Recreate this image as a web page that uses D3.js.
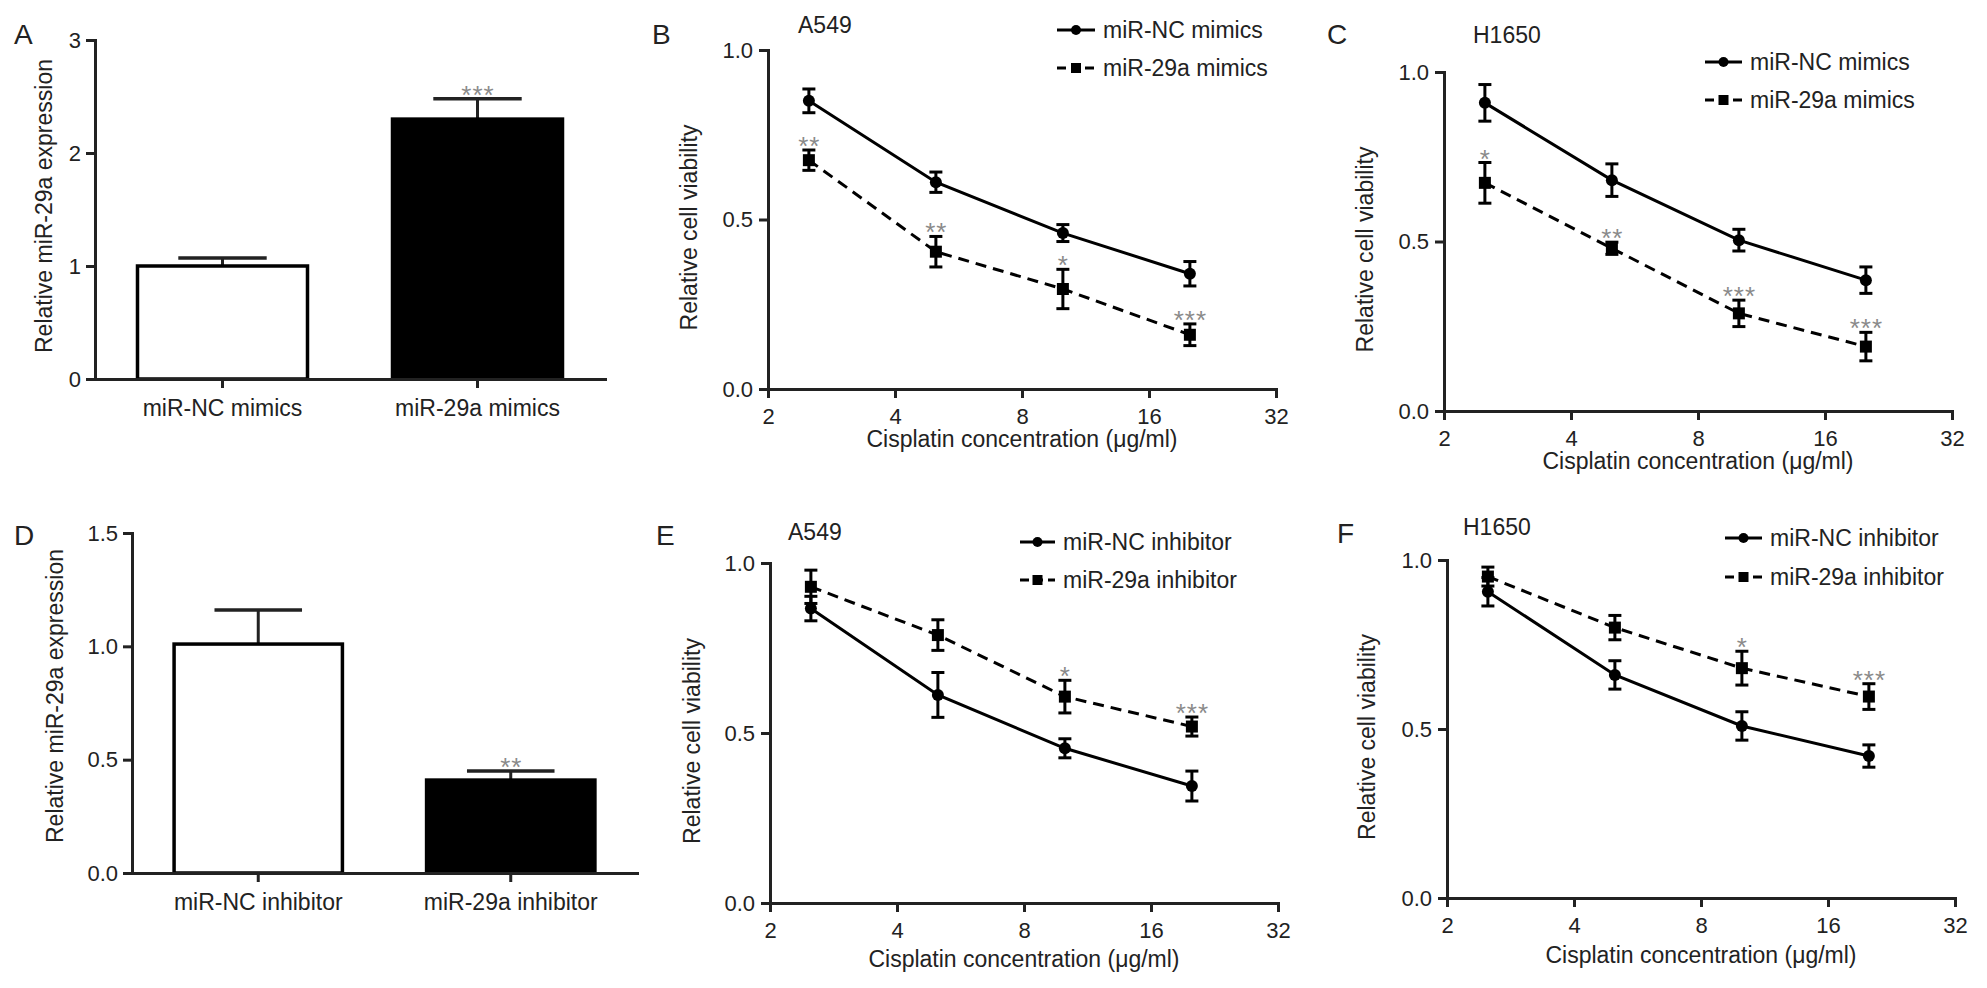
<!DOCTYPE html>
<html><head><meta charset="utf-8">
<script src="https://cdn.jsdelivr.net/npm/d3@7"></script>
<style>
body{margin:0;background:#fff}
text{font-family:"Liberation Sans",Arial,Helvetica,sans-serif;fill:#222}
</style>
</head><body>
<svg id="chart" width="1987" height="988"></svg>
<script>
// ---------------- DATA ----------------
const barCatsA = ["miR-NC mimics", "miR-29a mimics"];
const barMeanA = [1.0, 2.3];
const barErrA  = [0.07, 0.18];
const barSigA  = ["", "***"];
const barTicksA = [0, 1, 2, 3];

const barCatsD = ["miR-NC inhibitor", "miR-29a inhibitor"];
const barMeanD = [1.01, 0.41];
const barErrD  = [0.15, 0.04];
const barSigD  = ["", "**"];
const barTicksD = [0, 0.5, 1.0, 1.5];

const doses = [2.5, 5, 10, 20];
const doseTicks = [2, 4, 8, 16, 32];
const viabTicks = [0, 0.5, 1.0];

const seriesMimics = ["miR-NC mimics", "miR-29a mimics"];
const seriesInhib  = ["miR-NC inhibitor", "miR-29a inhibitor"];

const bNC = [0.85, 0.61, 0.46, 0.34],   bNCerr = [0.035, 0.03, 0.025, 0.036];
const b29 = [0.675, 0.405, 0.295, 0.16], b29err = [0.03, 0.045, 0.058, 0.032];
const bSig = ["**", "**", "*", "***"];

const cNC = [0.909, 0.681, 0.504, 0.386], cNCerr = [0.054, 0.048, 0.032, 0.039];
const c29 = [0.673, 0.48, 0.288, 0.19],   c29err = [0.06, 0.018, 0.039, 0.042];
const cSig = ["*", "**", "***", "***"];

const eNC = [0.866, 0.612, 0.455, 0.344], eNCerr = [0.036, 0.066, 0.028, 0.044];
const e29 = [0.93, 0.788, 0.607, 0.519],  e29err = [0.049, 0.045, 0.048, 0.028];
const eSig = ["", "", "*", "***"];

const fNC = [0.906, 0.66, 0.509, 0.42],   fNCerr = [0.042, 0.042, 0.042, 0.033];
const f29 = [0.951, 0.80, 0.68, 0.596],   f29err = [0.028, 0.036, 0.05, 0.038];
const fSig = ["", "", "*", "***"];

// ---------------- DRAWING ----------------
const svg = d3.select("#chart");
const TICKFS = 22, FS = 23, LETTERFS = 28, STARFS = 26;
const INK = "#222", STAR = "#8a8a8a";
const FONT = '"Liberation Sans",Arial,Helvetica,sans-serif';

function styleAxis(g) {
  g.attr("font-size", TICKFS).attr("font-family", FONT);
  g.select(".domain").attr("stroke", INK).attr("stroke-width", 3).attr("stroke-linecap", "square");
  g.selectAll(".tick line").attr("stroke", INK).attr("stroke-width", 3);
  g.selectAll(".tick text").attr("fill", INK);
}

function label(x, y, txt, size, anchor) {
  svg.append("text").attr("x", x).attr("y", y).attr("font-size", size)
    .attr("text-anchor", anchor || "start").text(txt);
}

function yTitle(bx, cy, txt) {
  svg.append("text").attr("transform", `translate(${bx},${cy}) rotate(-90)`)
    .attr("text-anchor", "middle").attr("font-size", FS).text(txt);
}

function stars(x, errTopY, s) {
  if (!s) return;
  svg.append("text").attr("x", x + 0.5).attr("y", errTopY + 5)
    .attr("text-anchor", "middle").attr("font-size", STARFS)
    .attr("letter-spacing", 1).style("fill", STAR).text(s);
}

function barPanel(o) {
  const y = d3.scaleLinear().domain([0, o.max]).range([o.yb, o.yt]);
  const x = d3.scaleBand().domain(o.cats).range([o.x0, o.x1]).paddingInner(1/3).paddingOuter(1/6);
  const g = svg.append("g");
  const bw = x.bandwidth();
  o.cats.forEach((c, i) => {
    const left = x(c), cx = left + bw / 2;
    const top = y(o.mean[i]), et = y(o.mean[i] + o.err[i]);
    // error bar (upward)
    g.append("line").attr("x1", cx).attr("x2", cx).attr("y1", top).attr("y2", et)
      .attr("stroke", INK).attr("stroke-width", 3);
    g.append("line").attr("x1", cx - bw * 0.26).attr("x2", cx + bw * 0.26).attr("y1", et).attr("y2", et)
      .attr("stroke", INK).attr("stroke-width", 3.5);
    g.append("rect").attr("x", left).attr("y", top).attr("width", bw).attr("height", y(0) - top)
      .attr("fill", i === 0 ? "#fff" : "#000").attr("stroke", "#000").attr("stroke-width", 3.5);
    stars(cx, et, o.sig[i]);
  });
  const ya = svg.append("g").attr("transform", `translate(${o.x0},0)`)
    .call(d3.axisLeft(y).tickValues(o.ticks).tickFormat(o.fmt).tickSize(9).tickSizeOuter(0).tickPadding(5));
  styleAxis(ya);
  const xa = svg.append("g").attr("transform", `translate(0,${o.yb})`)
    .call(d3.axisBottom(x).tickSize(9).tickSizeOuter(0).tickPadding(12));
  styleAxis(xa);
  xa.selectAll(".tick text").attr("font-size", FS);
  yTitle(o.tbx, o.tcy, "Relative miR-29a expression");
  label(o.lx, o.ly, o.letter, LETTERFS);
}

function curvePanel(o) {
  const x = d3.scaleLog().base(2).domain([2, 32]).range([o.x0, o.x1]);
  const y = d3.scaleLinear().domain([0, 1]).range([o.yb, o.yt]);
  const g = svg.append("g");
  const line = d3.line().x((d, i) => x(doses[i])).y(d => y(d));
  // lines
  g.append("path").datum(o.nc).attr("d", line).attr("fill", "none")
    .attr("stroke", "#000").attr("stroke-width", 3);
  g.append("path").datum(o.s29).attr("d", line).attr("fill", "none")
    .attr("stroke", "#000").attr("stroke-width", 3).attr("stroke-dasharray", "11,7");
  function errs(vals, e) {
    vals.forEach((v, i) => {
      const cx = x(doses[i]), a = y(v - e[i]), b = y(v + e[i]);
      g.append("line").attr("x1", cx).attr("x2", cx).attr("y1", a).attr("y2", b)
        .attr("stroke", "#000").attr("stroke-width", 3);
      [a, b].forEach(yy => g.append("line").attr("x1", cx - 6.5).attr("x2", cx + 6.5)
        .attr("y1", yy).attr("y2", yy).attr("stroke", "#000").attr("stroke-width", 3));
    });
  }
  errs(o.nc, o.ncErr);
  errs(o.s29, o.s29Err);
  o.nc.forEach((v, i) => g.append("circle").attr("cx", x(doses[i])).attr("cy", y(v)).attr("r", 6).attr("fill", "#000"));
  o.s29.forEach((v, i) => g.append("rect").attr("x", x(doses[i]) - 6).attr("y", y(v) - 6)
    .attr("width", 12).attr("height", 12).attr("fill", "#000"));
  o.s29.forEach((v, i) => stars(x(doses[i]), y(v + o.s29Err[i]), o.sig[i]));

  const ya = svg.append("g").attr("transform", `translate(${o.x0},0)`)
    .call(d3.axisLeft(y).tickValues(viabTicks).tickFormat(d3.format(".1f")).tickSize(9).tickSizeOuter(0).tickPadding(6));
  styleAxis(ya);
  const xa = svg.append("g").attr("transform", `translate(0,${o.yb})`)
    .call(d3.axisBottom(x).tickValues(doseTicks).tickFormat(d3.format("d")).tickSize(9).tickSizeOuter(0).tickPadding(10));
  styleAxis(xa);

  yTitle(o.tbx, (o.yt + o.yb) / 2 + 8, "Relative cell viability");
  label((o.x0 + o.x1) / 2, o.xtb, "Cisplatin concentration (\u03bcg/ml)", FS, "middle");
  label(o.lx, o.ly, o.letter, LETTERFS);
  label(o.cellX, o.cellY, o.cell, FS);

  // legend
  o.names.forEach((nm, i) => {
    const ly = o.legY[i];
    const mid = (o.legX0 + o.legX1) / 2;
    svg.append("line").attr("x1", o.legX0).attr("x2", o.legX1).attr("y1", ly).attr("y2", ly)
      .attr("stroke", "#000").attr("stroke-width", 3)
      .attr("stroke-dasharray", i === 1 ? "9,5" : null);
    if (i === 0) svg.append("circle").attr("cx", mid).attr("cy", ly).attr("r", 5).attr("fill", "#000");
    else svg.append("rect").attr("x", mid - 5).attr("y", ly - 5).attr("width", 10).attr("height", 10).attr("fill", "#000");
    label(o.legX1 + 8, ly + 8, nm, FS);
  });
}

barPanel({cats: barCatsA, mean: barMeanA, err: barErrA, sig: barSigA, ticks: barTicksA, fmt: d3.format("d"),
  max: 3, x0: 95, x1: 605, yt: 40, yb: 379, tbx: 52, tcy: 206, letter: "A", lx: 14, ly: 44});
barPanel({cats: barCatsD, mean: barMeanD, err: barErrD, sig: barSigD, ticks: barTicksD, fmt: d3.format(".1f"),
  max: 1.5, x0: 132, x1: 637, yt: 533, yb: 873, tbx: 63, tcy: 696, letter: "D", lx: 14, ly: 545});

curvePanel({x0: 768, x1: 1276, yt: 50, yb: 389, nc: bNC, ncErr: bNCerr, s29: b29, s29Err: b29err, sig: bSig,
  tbx: 697, xtb: 447, letter: "B", lx: 652, ly: 44, cell: "A549", cellX: 798, cellY: 33,
  names: seriesMimics, legX0: 1057, legX1: 1095, legY: [30, 68]});
curvePanel({x0: 1444, x1: 1952, yt: 72, yb: 411, nc: cNC, ncErr: cNCerr, s29: c29, s29Err: c29err, sig: cSig,
  tbx: 1373, xtb: 469, letter: "C", lx: 1327, ly: 44, cell: "H1650", cellX: 1473, cellY: 43,
  names: seriesMimics, legX0: 1705, legX1: 1742, legY: [62, 100]});
curvePanel({x0: 770, x1: 1278, yt: 563, yb: 903, nc: eNC, ncErr: eNCerr, s29: e29, s29Err: e29err, sig: eSig,
  tbx: 700, xtb: 967, letter: "E", lx: 656, ly: 545, cell: "A549", cellX: 788, cellY: 540,
  names: seriesInhib, legX0: 1020, legX1: 1055, legY: [542, 580]});
curvePanel({x0: 1447, x1: 1955, yt: 560, yb: 898, nc: fNC, ncErr: fNCerr, s29: f29, s29Err: f29err, sig: fSig,
  tbx: 1375, xtb: 963, letter: "F", lx: 1337, ly: 543, cell: "H1650", cellX: 1463, cellY: 535,
  names: seriesInhib, legX0: 1725, legX1: 1762, legY: [538, 577]});
</script>
</body></html>
